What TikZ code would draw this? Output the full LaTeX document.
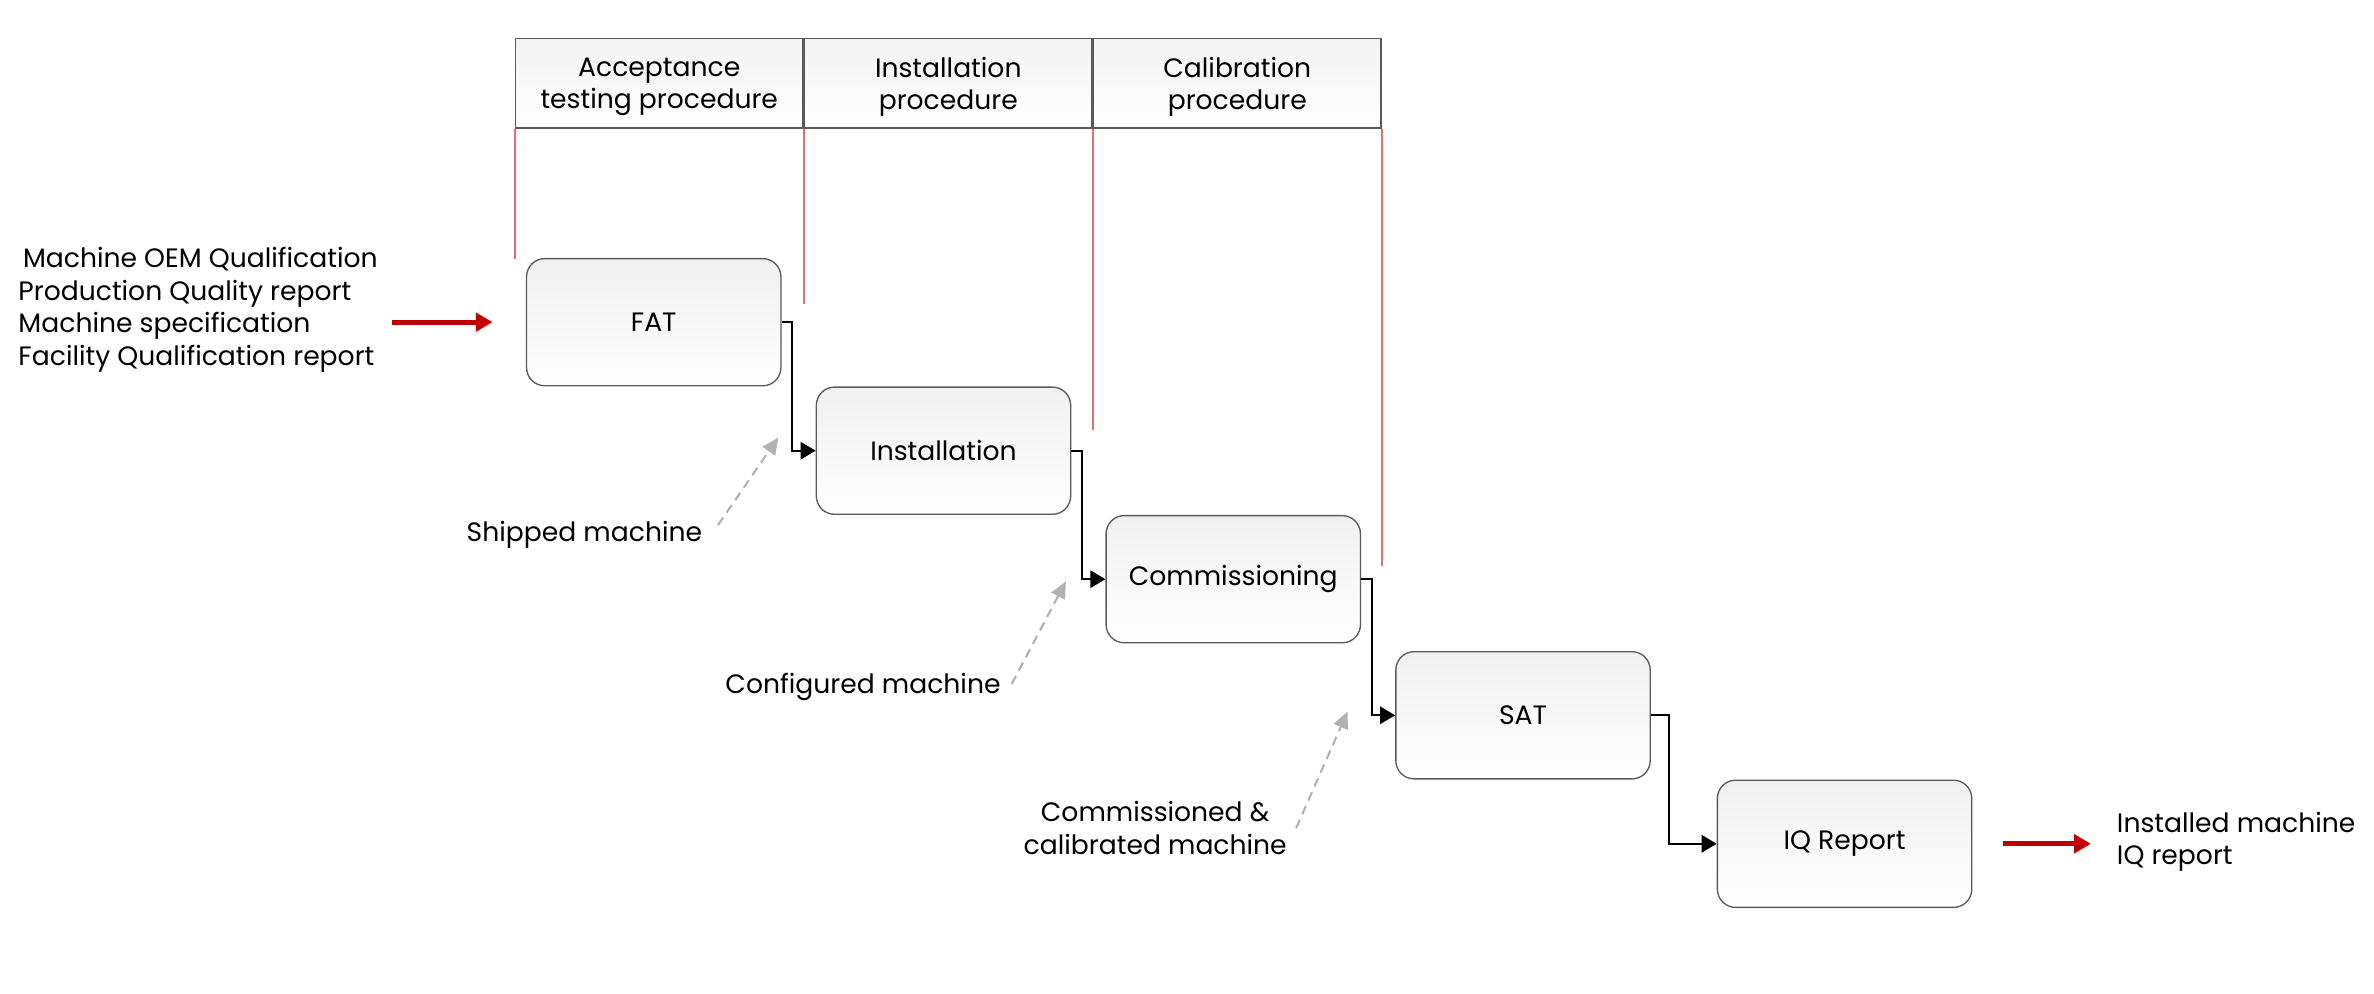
\documentclass[tikz,border=0pt]{standalone}
\usepackage{fontspec}
\setmainfont{Poppins}
\usetikzlibrary{matrix,positioning,arrows.meta}
\definecolor{lanered}{RGB}{230,110,110}
\definecolor{arrowred}{RGB}{192,0,0}

\begin{document}
\begin{tikzpicture}[x=0.2mm,y=-0.2mm,font=\fontsize{10}{12.2}\selectfont,
  stage/.style={draw=gray!70!black,line width=0.5pt,rounded corners=2.4mm,
    top color=gray!12,middle color=white,bottom color=white,anchor=center,
    minimum width=33.6mm,minimum height=16.8mm},
  head/.style={draw=gray!70!black,line width=0.5pt,top color=gray!10,
    middle color=white,bottom color=white,minimum width=38mm,
    minimum height=11.8mm,inner sep=0pt,align=center,text depth=-0.7mm},
  lane/.style={lanered,line width=0.6pt},
  flow/.style={line width=0.8pt,-{Triangle[length=2mm,width=2.3mm]}},
  elbow/.style={to path={-- ++(#1,0) |- (\tikztotarget)}},
  elbow/.default=7,
  feed/.style={gray!60,line width=0.8pt,dash pattern=on 1.2mm off 0.8mm,
    -{Triangle[length=2.2mm,width=2mm]}},
  io/.style={arrowred,line width=1.8pt,-{Triangle[length=2.2mm,width=2.4mm]}}]
  \useasboundingbox (0,0) rectangle (1568,656);

  \node[head,anchor=north west] (head1) at (340,25) {Acceptance\\testing procedure};
  \node[head,right=0pt of head1] (head2) {Installation\\procedure};
  \node[head,right=0pt of head2] (head3) {Calibration\\procedure};
  \draw[lane] (head1.south west) -- ++(0,86);
  \draw[lane] (head1.south east) -- ++(0,116);
  \draw[lane] (head2.south east) -- ++(0,199);
  \draw[lane] (head3.south east) -- ++(0,289);

  \matrix (m) [matrix of nodes,nodes={stage},anchor=north west,inner sep=0pt,
    row sep=0mm,column sep=4.5mm] at (347,170)
  {
     FAT & & & &[4.2mm] \\
       & Installation & & & \\
       & & Commissioning & & \\[1mm]
       & & & SAT & \\
       & & & & IQ Report \\};
  \path[flow]
    (m-1-1.east) edge[elbow] (m-2-2.west)
    (m-2-2.east) edge[elbow] (m-3-3.west)
    (m-3-3.east) edge[elbow] (m-4-4.west)
    (m-4-4.east) edge[elbow=12] (m-5-5.west);

  \node[anchor=west,align=left] (in) at (6,204.5)
    {\hspace*{0.6mm}Machine OEM Qualification\\Production Quality report\\
     Machine specification\\Facility Qualification report};
  \node[anchor=west,align=left] (out) at (1392,556) {Installed machine\\IQ report};
  \draw[io] ([xshift=0.6mm]in.east |- m-1-1.west) -- ([xshift=-4.4mm]m-1-1.west);
  \draw[io] ([xshift=4mm]m-5-5.east) -- ([xshift=-2.2mm]out.west |- m-5-5.east);

  \node (ship) at (386,353) {Shipped machine};
  \node (conf) at (570,454) {Configured machine};
  \node[align=center] (comm) at (763,547) {Commissioned \&\\calibrated machine};
  \coordinate (ship tip) at (514,289);
  \coordinate (conf tip) at (704,384);
  \coordinate (comm tip) at (890,470);
  \path[feed]
    (ship.east) edge[shorten <=1.5mm] (ship tip)
    (conf.east) edge[shorten <=0.5mm] (conf tip)
    (comm.east) edge (comm tip);

\end{tikzpicture}
\end{document}
